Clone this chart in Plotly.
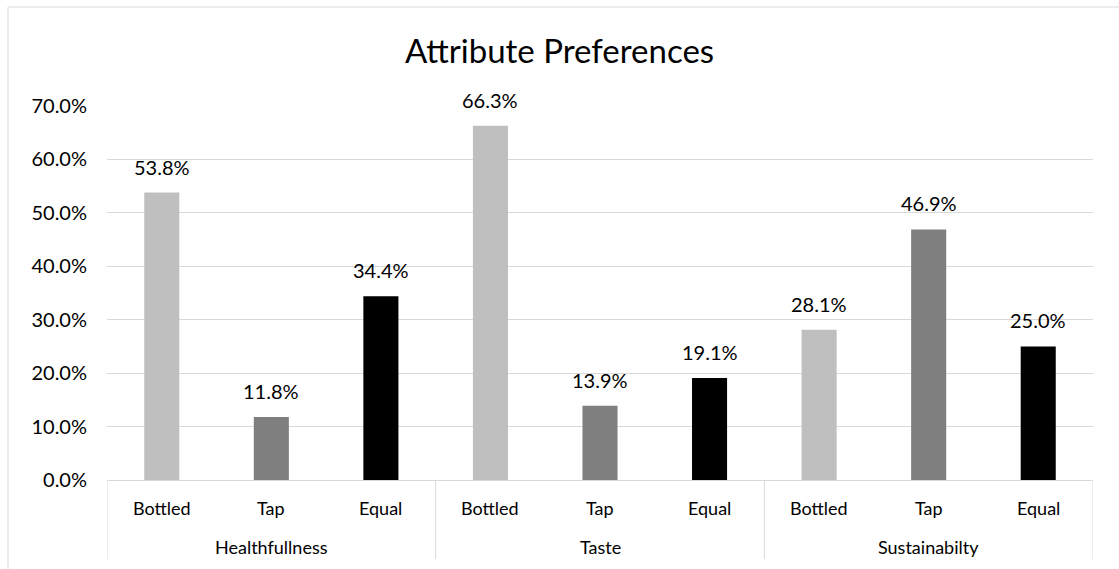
import plotly.graph_objects as go

groups = ["Healthfullness", "Taste", "Sustainabilty"]
options = ["Bottled", "Tap", "Equal"]
values = [
    [0.538, 0.118, 0.344],
    [0.663, 0.139, 0.191],
    [0.281, 0.469, 0.250],
]
option_colors = ["#BFBFBF", "#7F7F7F", "#000000"]

x_pos, x_labels, y_vals, colors = [], [], [], []
i = 0
for g, vals in zip(groups, values):
    for o, v, c in zip(options, vals, option_colors):
        x_pos.append(i)
        x_labels.append(o)
        y_vals.append(v)
        colors.append(c)
        i += 1

FONT = "Lato, Open Sans, sans-serif"

fig = go.Figure(
    go.Bar(
        x=x_pos,
        y=y_vals,
        marker=dict(color=colors, line=dict(width=0)),
        width=0.32,
        hoverinfo="skip",
    )
)

L, R, T, B = 107, 26, 106, 89
W, H = 1119, 569
plot_h = H - T - B

fig.update_layout(
    width=W,
    height=H,
    margin=dict(l=L, r=R, t=T, b=B),
    paper_bgcolor="white",
    plot_bgcolor="white",
    showlegend=False,
    font=dict(family=FONT, size=20, color="#000000"),
    title=dict(
        text="Attribute Preferences",
        x=0.5,
        xref="container",
        xanchor="center",
        y=1 - 51 / H,
        yref="container",
        yanchor="middle",
        font=dict(size=33, color="#000000", family=FONT),
    ),
)

fig.update_yaxes(
    range=[0, 0.7],
    dtick=0.1,
    tickformat=".1%",
    showgrid=True,
    gridcolor="#D9D9D9",
    gridwidth=1,
    zeroline=False,
    showline=False,
    ticks="",
    ticklabelstandoff=19,
    tickfont=dict(size=20, family=FONT),
    fixedrange=True,
)

fig.update_xaxes(
    range=[-0.5, len(x_pos) - 0.5],
    showline=True,
    linecolor="#D9D9D9",
    linewidth=1,
    showticklabels=False,
    ticks="",
    showgrid=False,
    zeroline=False,
    fixedrange=True,
)

# data labels
for xp, v in zip(x_pos, y_vals):
    fig.add_annotation(
        x=xp, y=v, xref="x", yref="y",
        text=f"{v*100:.1f}%",
        showarrow=False,
        yanchor="middle",
        yshift=26,
        font=dict(size=20, color="#000000", family=FONT),
    )

# inner category labels
for xp, lab in zip(x_pos, x_labels):
    fig.add_annotation(
        x=xp, y=0, xref="x", yref="paper",
        text=lab, showarrow=False,
        yanchor="middle", yshift=-(508 - 480),
        font=dict(size=18, color="#000000", family=FONT),
    )

# outer group labels and dividers
n = len(options)
for gi, g in enumerate(groups):
    center = gi * n + (n - 1) / 2
    fig.add_annotation(
        x=center, y=0, xref="x", yref="paper",
        text=g, showarrow=False,
        yanchor="middle", yshift=-(547 - 480),
        font=dict(size=18, color="#000000", family=FONT),
    )

for k in range(len(groups) + 1):
    xd = k * n - 0.5
    fig.add_shape(
        type="line", xref="x", yref="paper",
        x0=xd, x1=xd, y0=0, y1=-(559 - 480) / plot_h,
        line=dict(color="#D9D9D9", width=1),
    )

# outer chart border
plot_w = W - L - R
fig.add_shape(
    type="rect",
    xref="paper", yref="paper",
    x0=(8 - L) / plot_w, x1=(W + 20 - L) / plot_w,
    y0=(H - B - (H + 20)) / plot_h, y1=(H - B - 7) / plot_h,
    line=dict(color="#D9D9D9", width=1),
    fillcolor="rgba(0,0,0,0)",
    layer="below",
)

fig.write_html("out.html")
